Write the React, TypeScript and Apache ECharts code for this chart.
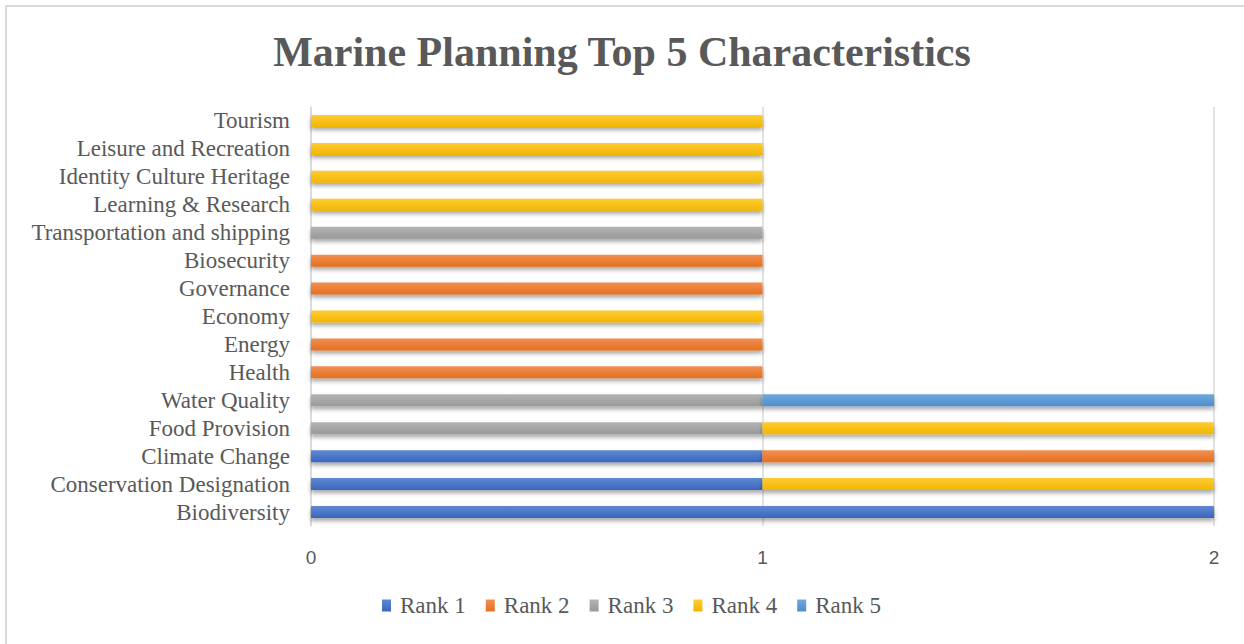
import React, { useEffect, useRef } from "react";
import * as echarts from "echarts";

const categories = [
  "Biodiversity",
  "Conservation Designation",
  "Climate Change",
  "Food Provision",
  "Water Quality",
  "Health",
  "Energy",
  "Economy",
  "Governance",
  "Biosecurity",
  "Transportation and shipping",
  "Learning & Research",
  "Identity Culture Heritage",
  "Leisure and Recreation",
  "Tourism",
];

const rank1 = [2, 1, 1, null, null, null, null, null, null, null, null, null, null, null, null];
const rank2 = [null, null, 1, null, null, 1, 1, null, 1, 1, null, null, null, null, null];
const rank3 = [null, null, null, 1, 1, null, null, null, null, null, 1, null, null, null, null];
const rank4 = [null, 1, null, 1, null, null, null, 1, null, null, null, 1, 1, 1, 1];
const rank5 = [null, null, null, null, 1, null, null, null, null, null, null, null, null, null, null];

const seriesNames = ["Rank 1", "Rank 2", "Rank 3", "Rank 4", "Rank 5"];
const seriesData = [rank1, rank2, rank3, rank4, rank5];
const baseColors = ["#4472C4", "#ED7D31", "#A5A5A5", "#FFC000", "#5B9BD5"];
const lightColors = ["#5F88D3", "#F28F52", "#B4B4B4", "#FFCB33", "#70A9DE"];
const darkColors = ["#3A66BC", "#E56F1E", "#999999", "#F2B600", "#4C8DCB"];

export default function App() {
  const ref = useRef<HTMLDivElement>(null);
  useEffect(() => {
    if (!ref.current) return;
    const chart = echarts.init(ref.current, null, { renderer: "svg" });
    chart.setOption({
      animation: false,
      backgroundColor: "#ffffff",
      color: baseColors,
      title: {
        text: "Marine Planning Top 5 Characteristics",
        left: "center",
        top: 26,
        textStyle: {
          fontFamily: "Liberation Serif",
          fontWeight: "bold",
          fontSize: 42,
          color: "#595959",
        },
      },
      graphic: [
        {
          type: "rect",
          shape: { x: 6, y: 6, width: 1300, height: 700 },
          style: { fill: "none", stroke: "#d9d9d9", lineWidth: 2 },
          silent: true,
        },
      ],
      legend: {
        bottom: 22,
        left: 377,
        itemWidth: 9,
        itemHeight: 12,
        itemGap: 20,
        icon: "rect",
        textStyle: {
          fontFamily: "Liberation Serif",
          fontSize: 23,
          color: "#595959",
          padding: [0, 0, 0, 4],
        },
        data: seriesNames,
      },
      grid: { left: 311, right: 30, top: 107, bottom: 118, containLabel: false },
      xAxis: {
        type: "value",
        min: 0,
        max: 2,
        interval: 1,
        axisLine: { show: false },
        axisTick: { show: false },
        axisLabel: {
          fontFamily: "Liberation Sans",
          fontSize: 19,
          color: "#595959",
          margin: 22,
        },
        splitLine: { show: true, lineStyle: { color: "#d9d9d9", width: 1.5 } },
      },
      yAxis: {
        type: "category",
        data: categories,
        axisLine: { show: true, lineStyle: { color: "#d9d9d9", width: 1.5 } },
        axisTick: { show: false },
        axisLabel: {
          interval: 0,
          fontFamily: "Liberation Serif",
          fontSize: 23,
          color: "#595959",
          margin: 21,
        },
      },
      series: seriesNames.map((name, i) => ({
        name,
        type: "bar",
        stack: "total",
        barWidth: 12,
        data: seriesData[i],
        itemStyle: {
          color: new echarts.graphic.LinearGradient(0, 0, 0, 1, [
            { offset: 0, color: lightColors[i] },
            { offset: 1, color: darkColors[i] },
          ]),
          shadowColor: "rgba(0,0,0,0.35)",
          shadowBlur: 4,
          shadowOffsetY: 3,
        },
      })),
    });
    return () => chart.dispose();
  }, []);
  return (
    <div
      ref={ref}
      style={{ position: "fixed", left: 0, top: 0, width: 1244, height: 644 }}
    />
  );
}
